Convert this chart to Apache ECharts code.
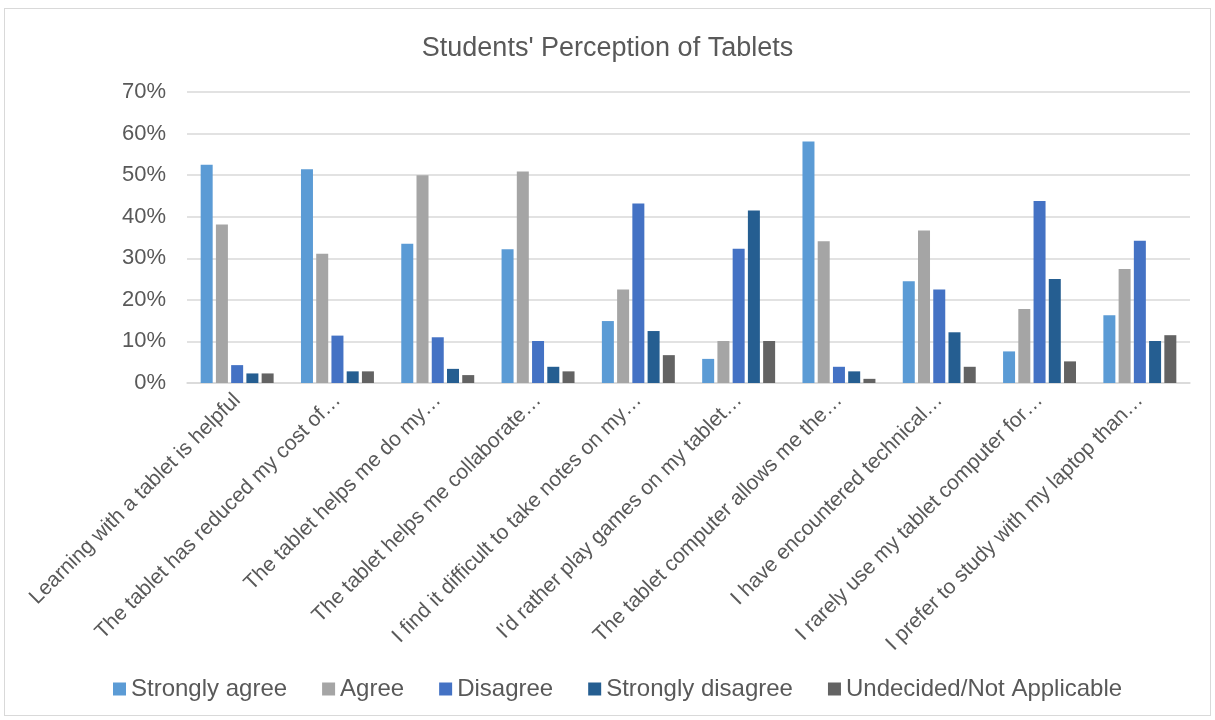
<!DOCTYPE html>
<html>
<head>
<meta charset="utf-8">
<script src="https://cdn.jsdelivr.net/npm/echarts@6/dist/echarts.min.js"></script>
<style>
  body { margin: 0; background: #fff; }
  #chart { position: absolute; left: 0; top: 0; width: 1215px; height: 720px; }
  #frame { position: absolute; left: 4px; top: 8px; width: 1207px; height: 708px;
           border: 1px solid #d9d9d9; box-sizing: border-box; pointer-events: none; }
</style>
</head>
<body>
<div id="chart"></div>
<div id="frame"></div>
<script>
// survey statements (truncated the same way as the original chart)
const categories = [
  "Learning with a tablet is helpful",
  "The tablet has reduced my cost of…",
  "The tablet helps me do my…",
  "The tablet helps me collaborate…",
  "I find it difficult to take notes on my…",
  "I'd rather play games on my tablet…",
  "The tablet computer allows me the…",
  "I have encountered technical…",
  "I rarely use my tablet computer for…",
  "I prefer to study with my laptop than…"
];

// percentages per response
const stronglyAgree = [52.5, 51.4, 33.5, 32.2, 14.9, 5.8, 58.1, 24.5, 7.6, 16.3];
const agree = [38.1, 31.1, 50.0, 50.9, 22.5, 10.1, 34.1, 36.7, 17.8, 27.4];
const disagree = [4.3, 11.4, 11.0, 10.1, 43.2, 32.3, 3.9, 22.5, 43.8, 34.2];
const stronglyDisagree = [2.3, 2.8, 3.4, 3.9, 12.5, 41.5, 2.8, 12.2, 25.0, 10.1];
const undecided = [2.3, 2.8, 1.9, 2.8, 6.7, 10.1, 1.0, 3.9, 5.2, 11.5];

const seriesNames = ["Strongly agree", "Agree", "Disagree", "Strongly disagree", "Undecided/Not Applicable"];
const seriesData = [stronglyAgree, agree, disagree, stronglyDisagree, undecided];
const colors = ["#5b9bd5", "#a5a5a5", "#4472c4", "#255e91", "#636363"];

const chart = echarts.init(document.getElementById("chart"));
const font = "Liberation Sans, Arial, sans-serif";

const option = {
  color: colors,
  title: {
    text: "Students' Perception of Tablets",
    left: "center",
    top: 30,
    textStyle: { fontFamily: font, fontSize: 27, fontWeight: "normal", color: "#595959" }
  },
  legend: {
    bottom: 14,
    left: 108,
    itemWidth: 13,
    itemHeight: 13,
    itemGap: 35,
    icon: "rect",
    textStyle: { fontFamily: font, fontSize: 24, color: "#595959" },
    data: seriesNames
  },
  grid: { left: 187, right: 25, top: 92, bottom: 337 },
  xAxis: {
    type: "category",
    data: categories,
    axisLine: { lineStyle: { color: "#d9d9d9", width: 1.5 } },
    axisTick: { show: false },
    axisLabel: {
      interval: 0,
      rotate: 45,
      margin: 14,
      fontFamily: font,
      fontSize: 21,
      color: "#595959"
    }
  },
  yAxis: {
    type: "value",
    min: 0,
    max: 70,
    interval: 10,
    axisLine: { show: false },
    axisTick: { show: false },
    axisLabel: {
      formatter: "{value}%",
      margin: 21,
      fontFamily: font,
      fontSize: 22,
      color: "#595959"
    },
    splitLine: { lineStyle: { color: "#d9d9d9", width: 1.5 } }
  },
  series: seriesNames.map((name, i) => ({
    name: name,
    type: "bar",
    data: seriesData[i],
    barWidth: 12,
    barGap: "27%",
    animation: false
  }))
};

chart.setOption(option);
</script>
</body>
</html>
